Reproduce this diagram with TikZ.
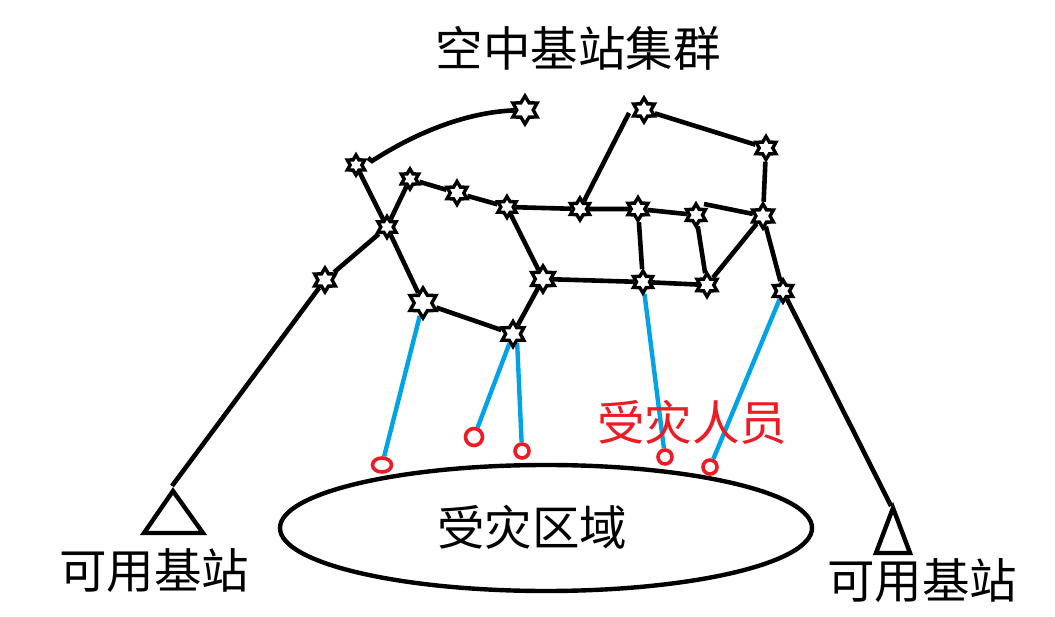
\documentclass[tikz,border=0pt]{standalone}
\usepackage{fontspec}
\newfontfamily\cjk{Noto Sans CJK SC}
\usetikzlibrary{shapes.geometric,backgrounds}
\definecolor{pblue}{RGB}{0,162,232}
\definecolor{pred}{RGB}{237,28,36}
\tikzset{
  st/.style={star, star points=6, star point ratio=1.7, minimum size=21pt, inner sep=0pt, draw=black, fill=white, line width=3.4pt},
  link/.style={line width=4.6pt, black},
  blink/.style={line width=4.4pt, pblue},
  vic/.style={circle, draw=pred, line width=3.6pt, inner sep=0pt, fill=white},
  lbl/.style={font=\cjk\fontsize{47.5}{50}\selectfont, inner sep=0pt},
}
\begin{document}
\begin{tikzpicture}[x=1pt,y=-1pt]
\useasboundingbox (0,0) rectangle (1055,617);
% stars
\node[st, minimum size=28pt] (s1) at (525,110) {};
\node[st, minimum size=20pt] (s2) at (356,165) {};
\node[st, minimum size=20pt] (s3) at (410,179) {};
\node[st, minimum size=23pt] (s4) at (457,193) {};
\node[st, minimum size=21pt] (s5) at (507,207) {};
\node[st, minimum size=21pt] (s6) at (387,227) {};
\node[st, minimum size=24pt] (s7) at (325,280) {};
\node[st, minimum size=30pt] (s8) at (423,303) {};
\node[st, minimum size=25pt] (s9) at (513,334) {};
\node[st, minimum size=26pt] (s10) at (543,279) {};
\node[st, minimum size=22pt] (s11) at (580,209) {};
\node[st, minimum size=24pt] (s12) at (644,110) {};
\node[st, minimum size=23pt] (s13) at (766,148) {};
\node[st, minimum size=23pt] (s14) at (638,209) {};
\node[st, minimum size=22pt] (s15) at (696,215) {};
\node[st, minimum size=24pt] (s16) at (763,216) {};
\node[st, minimum size=22pt] (s17) at (643,282) {};
\node[st, minimum size=23pt] (s18) at (707,285) {};
\node[st, minimum size=22pt] (s19) at (783,291) {};
% victims
\node[vic, ellipse, minimum width=19pt, minimum height=14pt] (r1) at (382,465) {};
\node[vic, minimum size=17pt] (r2) at (474,437) {};
\node[vic, minimum size=14pt] (r3) at (522,451) {};
\node[vic, minimum size=14pt] (r4) at (665,457) {};
\node[vic, minimum size=14pt] (r5) at (710,467) {};
% free ends
\coordinate (c0) at (368,158);
\coordinate (c12) at (629,113);
\coordinate (c15) at (704,204);
\coordinate (la) at (172,486);
\coordinate (ra) at (891,506);
% area
\node[ellipse, draw, line width=4.4pt, minimum width=532pt, minimum height=126pt] (area) at (546,528) {};
\node[lbl] (areat) at (532,527) {受灾区域};
% triangles
\draw[line width=4.4pt, line join=miter] (173,491) -- (144,533) -- (203,533) -- cycle;
\draw[line width=4.4pt, line join=miter] (893,508) -- (876,553) -- (910,553) -- cycle;
% texts
\node[lbl] (title) at (578,48) {空中基站集群};
\node[lbl, text=pred] (vict) at (692,422) {受灾人员};
\node[lbl] (lbs) at (154,571) {可用基站};
\node[lbl] (rbs) at (922,581) {可用基站};
\begin{pgfonlayer}{background}
\draw[link] (c0) -- ++(4,3) .. controls (420,130) and (470,112) .. (s1);
\draw[link] (s2) -- (s6);
\draw[link] (s3) -- (s6);
\draw[link] (s6) -- (s7) -- (la);
\draw[link] (s3) -- (s4) -- (s5);
\draw[link] (s5) -- (s11) -- (s14) -- (s15);
\draw[link] (s5) -- (s10);
\draw[link] (s6) -- (s8) -- (s9) -- (s10);
\draw[link] (s10) -- (s17) -- (s18);
\draw[link] (s14) -- (s17);
\draw[link] (s15) -- (s18);
\draw[link] (s18) -- (s16);
\draw[link] (s11) -- (c12);
\draw[link] (s12) -- (s13) -- (s16);
\draw[link] (c15) -- (s16);
\draw[link] (s16) -- (s19) -- (ra);
\draw[blink] (s8) -- (r1);
\draw[blink] (s9) -- (r2);
\draw[blink] (s9.-65) -- (r3);
\draw[blink] (s17) -- (r4);
\draw[blink] (s19) -- (r5);
\end{pgfonlayer}
\end{tikzpicture}
\end{document}
